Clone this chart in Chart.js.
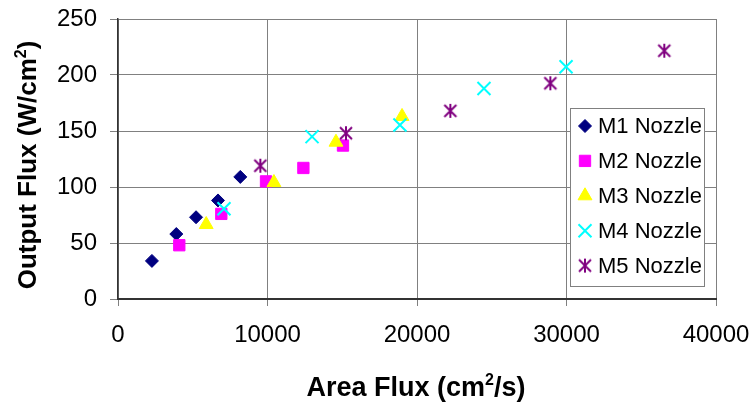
<!DOCTYPE html>
<html>
<head>
<meta charset="utf-8">
<title>Output Flux vs Area Flux</title>
<script src="https://cdn.jsdelivr.net/npm/chart.js@4.4.1/dist/chart.umd.min.js"></script>
<style>
    html, body { margin: 0; padding: 0; background: #fff; }
    #wrap { width: 754px; height: 402px; }
</style>
</head>
<body>
<div id="wrap"><canvas id="flux-chart" width="754" height="402"></canvas></div>
<script>
    'use strict';

    // Data
    const seriesNames = ['M1 Nozzle', 'M2 Nozzle', 'M3 Nozzle', 'M4 Nozzle', 'M5 Nozzle'];

    const m1Area = [2270, 3900, 5220, 6690, 8180];
    const m1Flux = [34, 58, 73, 88, 109];

    const m2Area = [4100, 6910, 9900, 12400, 15050];
    const m2Flux = [48, 76, 105, 117, 137];

    const m3Area = [5900, 10430, 14580, 19000];
    const m3Flux = [66.5, 104, 140, 163];

    const m4Area = [7090, 12980, 18860, 24480, 29970];
    const m4Flux = [80.6, 145, 155.4, 188, 207.4];

    const m5Area = [9520, 15250, 22230, 28920, 36540];
    const m5Flux = [119, 148, 168, 192.6, 221.7];

    const xTicks = [0, 10000, 20000, 30000, 40000];
    const yTicks = [0, 50, 100, 150, 200, 250];

    const FONT = '"Liberation Sans", Arial, sans-serif';

    function toPoints(xs, ys) {
        return xs.map(function(x, i) { return { x: x, y: ys[i] }; });
    }

    // Excel style asterisk marker (X with a vertical bar)
    function makeAsterisk(color) {
        const c = document.createElement('canvas');
        c.width = 16;
        c.height = 16;
        const g = c.getContext('2d');
        g.strokeStyle = color;
        g.lineWidth = 2;
        g.beginPath();
        g.moveTo(2, 2); g.lineTo(14, 14);
        g.moveTo(14, 2); g.lineTo(2, 14);
        g.moveTo(8, 1); g.lineTo(8, 15);
        g.stroke();
        return c;
    }

    const styles = [
        { pointStyle: 'rectRot', radius: 6.5, color: '#000080', border: 1 },
        { pointStyle: 'rect', radius: 8, color: '#FF00FF', border: 1 },
        { pointStyle: 'triangle', radius: 8, color: '#FFFF00', border: 1 },
        { pointStyle: 'crossRot', radius: 9.2, color: '#00FFFF', border: 2 },
        { pointStyle: makeAsterisk('#800080'), radius: 8, color: '#800080', border: 2 }
    ];

    const seriesData = [
        toPoints(m1Area, m1Flux),
        toPoints(m2Area, m2Flux),
        toPoints(m3Area, m3Flux),
        toPoints(m4Area, m4Flux),
        toPoints(m5Area, m5Flux)
    ];

    // Draw text made of parts (for superscripts)
    function drawParts(ctx, parts, cx, cy) {
        let total = 0;
        parts.forEach(function(p) {
            ctx.font = 'bold ' + p.size + 'px ' + FONT;
            p.w = ctx.measureText(p.text).width;
            total += p.w;
        });
        let x = cx - total / 2;
        parts.forEach(function(p) {
            ctx.font = 'bold ' + p.size + 'px ' + FONT;
            ctx.fillText(p.text, x, cy + (p.dy || 0));
            x += p.w;
        });
    }

    const overlayPlugin = {
        id: 'overlay',
        afterDraw: function(chart) {
            const ctx = chart.ctx;
            ctx.save();
            ctx.fillStyle = '#000';
            ctx.textBaseline = 'alphabetic';
            ctx.textAlign = 'left';

            // X axis title
            drawParts(ctx, [
                { text: 'Area Flux (cm', size: 27 },
                { text: '2', size: 16, dy: -11 },
                { text: '/s)', size: 27 }
            ], 416, 396);

            // Y axis title
            ctx.save();
            ctx.translate(36, 165);
            ctx.rotate(-Math.PI / 2);
            drawParts(ctx, [
                { text: 'Output Flux (W/cm', size: 26 },
                { text: '2', size: 16, dy: -10 },
                { text: ')', size: 26 }
            ], 0, 0);
            ctx.restore();

            // Legend box
            const box = { x: 570.5, y: 108.5, w: 134, h: 178 };
            ctx.fillStyle = '#fff';
            ctx.fillRect(box.x, box.y, box.w, box.h);
            ctx.strokeStyle = '#808080';
            ctx.lineWidth = 1;
            ctx.strokeRect(box.x, box.y, box.w, box.h);

            ctx.font = '22px ' + FONT;
            ctx.textBaseline = 'middle';
            seriesNames.forEach(function(name, i) {
                const y = 126 + i * 34.9;
                const s = styles[i];
                ctx.fillStyle = s.color;
                ctx.strokeStyle = s.color;
                ctx.lineWidth = s.border;
                Chart.helpers.drawPoint(ctx, { pointStyle: s.pointStyle, radius: s.radius, rotation: 0, borderWidth: s.border }, 585, y);
                ctx.fillStyle = '#000';
                ctx.fillText(name, 598, y + 1);
            });
            ctx.restore();
        }
    };

    // Scatter Chart
    const canvas = document.getElementById('flux-chart');
    new Chart(canvas, {
        type: 'scatter',
        data: {
            datasets: seriesData.map(function(points, i) {
                const s = styles[i];
                return {
                    label: seriesNames[i],
                    data: points,
                    order: seriesNames.length - i,
                    pointStyle: s.pointStyle,
                    pointRadius: s.radius,
                    pointHoverRadius: s.radius,
                    backgroundColor: s.color,
                    borderColor: s.color,
                    pointBorderWidth: s.border
                };
            })
        },
        options: {
            responsive: false,
            animation: false,
            devicePixelRatio: 1,
            layout: {
                autoPadding: false,
                padding: { left: 0, right: 38, top: 19, bottom: 0 }
            },
            plugins: {
                legend: { display: false },
                title: { display: false },
                tooltip: { enabled: false }
            },
            scales: {
                x: {
                    type: 'linear',
                    min: 0,
                    max: 40000,
                    afterFit: function(scale) {
                        scale.height = 103;
                        scale.paddingLeft = 0;
                        scale.paddingRight = 0;
                    },
                    afterBuildTicks: function(scale) {
                        scale.ticks = xTicks.map(function(v) { return { value: v }; });
                    },
                    ticks: {
                        color: '#000',
                        padding: 15,
                        maxRotation: 0,
                        font: { family: FONT, size: 24 },
                        callback: function(v) { return String(v); }
                    },
                    grid: {
                        color: '#808080',
                        lineWidth: 1,
                        tickLength: 7,
                        tickColor: '#808080'
                    },
                    border: { display: true, color: '#333', width: 2 },
                    title: { display: false }
                },
                y: {
                    type: 'linear',
                    min: 0,
                    max: 250,
                    afterFit: function(scale) {
                        scale.width = 118;
                        scale.paddingTop = 0;
                        scale.paddingBottom = 0;
                    },
                    afterBuildTicks: function(scale) {
                        scale.ticks = yTicks.map(function(v) { return { value: v }; });
                    },
                    ticks: {
                        color: '#000',
                        padding: 13,
                        font: { family: FONT, size: 24 }
                    },
                    grid: {
                        color: '#808080',
                        lineWidth: 1,
                        tickLength: 8,
                        tickColor: '#808080'
                    },
                    border: { display: true, color: '#333', width: 1.5 },
                    title: { display: false }
                }
            }
        },
        plugins: [overlayPlugin]
    });
</script>
</body>
</html>
